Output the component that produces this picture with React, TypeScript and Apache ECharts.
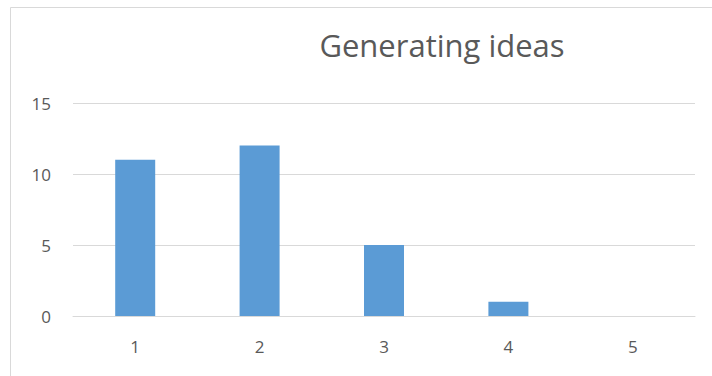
import React, { useEffect, useRef } from "react";
import * as echarts from "echarts";

const categories = ["1", "2", "3", "4", "5"];
const values = [11, 12, 5, 1, 0];
const titleText = "Generating ideas";

export default function App() {
  const ref = useRef<HTMLDivElement>(null);
  useEffect(() => {
    if (!ref.current) return;
    const chart = echarts.init(ref.current, undefined, { renderer: "svg" });
    const font = "'Open Sans', 'Noto Sans', sans-serif";
    chart.setOption({
      animation: false,
      backgroundColor: "#ffffff",
      title: {
        text: titleText,
        left: 437,
        textAlign: "center",
        top: 24,
        textStyle: { fontFamily: font, fontSize: 31, fontWeight: "normal", color: "#595959" },
      },
      graphic: [
        {
          type: "rect",
          shape: { x: 10.5, y: 7.5, width: 720, height: 400 },
          style: { fill: "none", stroke: "#D9D9D9", lineWidth: 1 },
          silent: true,
          z: -1,
        },
      ],
      grid: { left: 73, right: 17, top: 103, bottom: 60, containLabel: false },
      xAxis: {
        type: "category",
        data: categories,
        axisLine: { show: true, lineStyle: { color: "#D9D9D9" } },
        axisTick: { show: false },
        axisLabel: { color: "#595959", fontFamily: font, fontSize: 17, margin: 22 },
      },
      yAxis: {
        type: "value",
        min: 0,
        max: 15,
        interval: 5,
        axisLine: { show: false },
        axisTick: { show: false },
        splitLine: { lineStyle: { color: "#D9D9D9" } },
        axisLabel: { color: "#595959", fontFamily: font, fontSize: 17, margin: 22 },
      },
      series: [
        {
          type: "bar",
          data: values,
          barWidth: 40,
          itemStyle: { color: "#5B9BD5" },
        },
      ],
    });
    return () => chart.dispose();
  }, []);
  return (
    <div
      ref={ref}
      style={{ position: "absolute", left: 0, top: 0, width: 712, height: 376 }}
    />
  );
}
